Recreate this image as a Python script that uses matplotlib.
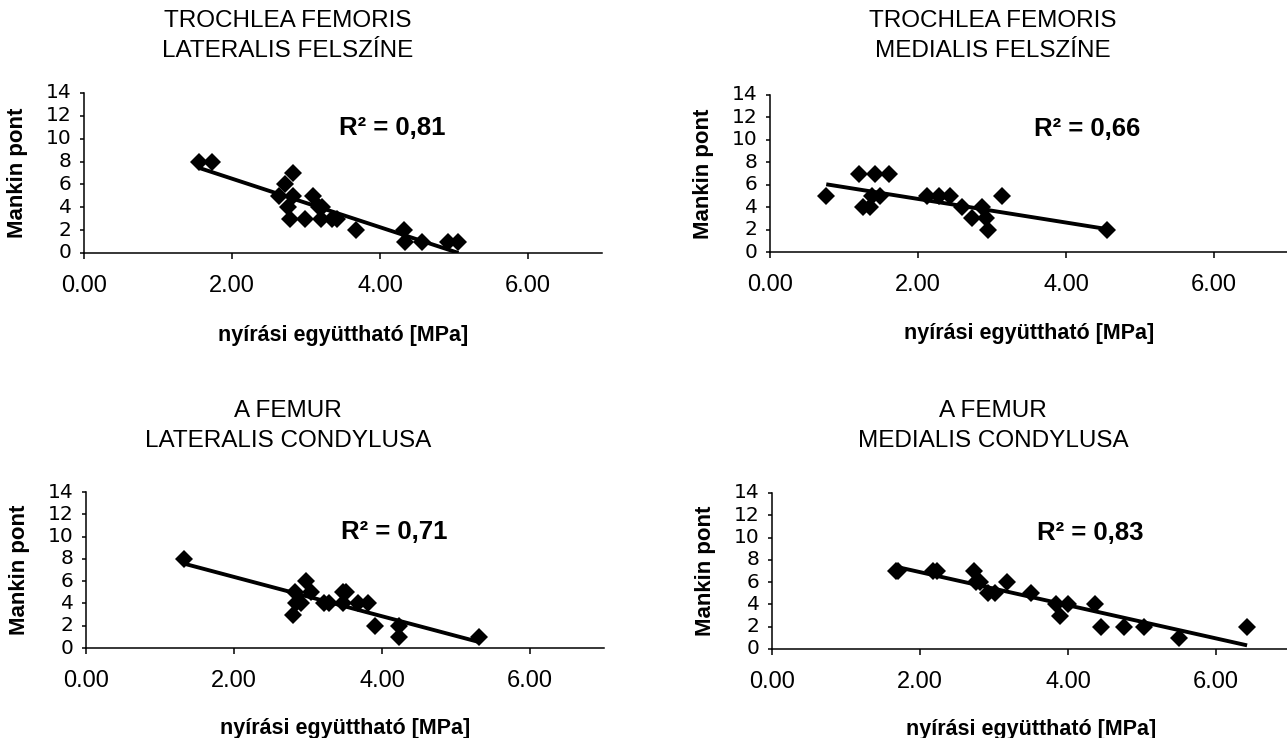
import matplotlib
matplotlib.use('Agg')
import matplotlib.pyplot as plt
import numpy as np

plt.rcParams['font.family'] = ['Liberation Sans', 'DejaVu Sans']

# adatok (leolvasva) - nyírási együttható [MPa] és Mankin pont
titles = ['TROCHLEA FEMORIS\nLATERALIS FELSZÍNE',
          'TROCHLEA FEMORIS\nMEDIALIS FELSZÍNE',
          'A FEMUR\nLATERALIS CONDYLUSA',
          'A FEMUR\nMEDIALIS CONDYLUSA']
r2_labels = ['R² = 0,81', 'R² = 0,66', 'R² = 0,71', 'R² = 0,83']

x_lat_felsz = [1.55, 1.73, 2.63, 2.71, 2.75, 2.79, 2.82, 2.82, 2.98, 3.09, 3.17,
               3.20, 3.22, 3.35, 3.42, 3.67, 4.32, 4.34, 4.57, 4.92, 5.06]
y_lat_felsz = [8, 8, 5, 6, 4, 3, 7, 5, 3, 5, 4, 3, 4, 3, 3, 2, 2, 1, 1, 1, 1]

x_med_felsz = [0.76, 1.20, 1.42, 1.61, 1.26, 1.35, 1.38, 1.48, 2.12, 2.29, 2.43,
               2.59, 2.73, 2.86, 2.92, 2.94, 3.13, 4.56]
y_med_felsz = [5, 7, 7, 7, 4, 4, 5, 5, 5, 5, 5, 4, 3, 4, 3, 2, 5, 2]

x_lat_cond = [1.33, 2.82, 2.80, 2.84, 2.90, 2.97, 3.04, 3.22, 3.28, 3.47, 3.52,
              3.47, 3.68, 3.81, 3.91, 4.23, 4.23, 5.31]
y_lat_cond = [8, 5, 3, 4, 4, 6, 5, 4, 4, 5, 5, 4, 4, 4, 2, 2, 1, 1]

x_med_cond = [1.68, 1.70, 2.17, 2.23, 2.73, 2.81, 2.76, 2.92, 3.01, 3.17, 3.50,
              3.84, 3.89, 4.00, 4.37, 4.45, 4.75, 5.03, 5.50, 6.42]
y_med_cond = [7, 7, 7, 7, 7, 6, 6, 5, 5, 6, 5, 4, 3, 4, 4, 2, 2, 2, 1, 2]

xs = [x_lat_felsz, x_med_felsz, x_lat_cond, x_med_cond]
ys = [y_lat_felsz, y_med_felsz, y_lat_cond, y_med_cond]

x_ticks = [0, 2, 4, 6]
x_ticklabels = ['0.00', '2.00', '4.00', '6.00']
y_ticks = [0, 2, 4, 6, 8, 10, 12, 14]

W, H = 1287, 738
fig = plt.figure(figsize=(W / 100, H / 100), dpi=100)

# tengelyek helye pixelben: bal, y0 (alul), y14 (felül)
boxes = [(84, 253, 93), (770, 252, 95), (86, 648, 492), (772, 649, 493)]
title_pos = [(288, 36), (993, 36), (288, 426), (993, 426)]
r2_pos = [(3.45, 10.9), (3.57, 11.0), (3.44, 10.4), (3.58, 10.4)]

for k in range(4):
    left, y0, y14 = boxes[k]
    ax = fig.add_axes([left / W, (H - y0) / H, 518 / W, (y0 - y14) / H])
    x = np.array(xs[k])
    y = np.array(ys[k])

    ax.plot(x, y, 'D', color='black', ms=9.5, mew=0, zorder=3)

    # lineáris trendvonal
    m, b = np.polyfit(x, y, 1)
    xl = np.array([x.min(), x.max()])
    yl = m * xl + b
    if yl[1] < 0:
        xl[1] = -b / m
        yl[1] = 0
    ax.plot(xl, yl, color='black', lw=2.8, solid_capstyle='butt', zorder=2)

    ax.set_xlim(0, 7)
    ax.set_ylim(0, 14)
    ax.set_xticks(x_ticks)
    ax.set_xticklabels(x_ticklabels)
    ax.set_yticks(y_ticks)
    for s in ['top', 'right']:
        ax.spines[s].set_visible(False)
    ax.spines['left'].set_linewidth(1.1)
    ax.spines['bottom'].set_linewidth(1.1)
    ax.patch.set_alpha(0)
    ax.tick_params(axis='x', direction='out', length=4, width=1.1, pad=12, labelsize=17)
    ax.tick_params(axis='y', direction='out', length=3, width=1.1, pad=6)
    for lab in ax.get_yticklabels():
        lab.set_fontfamily('DejaVu Sans')
        lab.set_fontsize(14.5)
        lab.set_verticalalignment('center')

    ax.set_ylabel('Mankin pont', fontsize=16, fontweight='bold')
    ax.yaxis.set_label_coords(-0.108, 0.5)
    ax.set_xlabel('nyírási együttható [MPa]', fontsize=15.5, fontweight='bold')
    ax.xaxis.set_label_coords(0.5, -0.45)

    ax.text(r2_pos[k][0], r2_pos[k][1], r2_labels[k], fontsize=18.5,
            fontweight='bold', va='center', ha='left')

    tx, ty = title_pos[k]
    fig.text(tx / W, (H - ty) / H, titles[k], fontsize=17.5, ha='center',
             va='center', linespacing=1.5)

fig.savefig('out.png', dpi=100)
